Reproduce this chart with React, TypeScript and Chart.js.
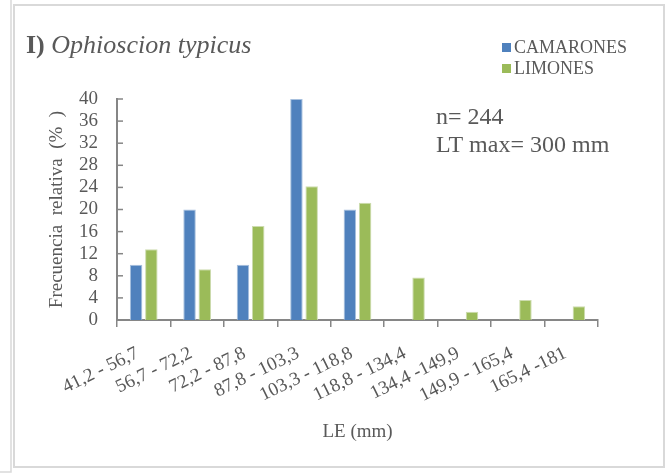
import React, { useEffect, useRef } from "react";
import { Chart, registerables } from "chart.js";

Chart.register(...registerables);

const categories = [
  "41,2 - 56,7",
  "56,7 - 72,2",
  "72,2 - 87,8",
  "87,8 - 103,3",
  "103,3 - 118,8",
  "118,8 - 134,4",
  "134,4 -149,9",
  "149,9 - 165,4",
  "165,4 -181",
];
const camarones = [10, 20, 10, 40, 20, 0, 0, 0, 0];
const limones = [12.8, 9.2, 17.0, 24.2, 21.2, 7.7, 1.5, 3.6, 2.5];
const seriesNames = ["CAMARONES", "LIMONES"];
const titleBold = "I)";
const titleItalic = "Ophioscion typicus";
const noteLines = ["n= 244", "LT max= 300 mm"];
const yTitle = "Frecuencia  relativa  (%  )";
const xTitle = "LE (mm)";

const SERIF = "'Liberation Serif', 'Times New Roman', serif";
const TEXT = "#595959";
const AXIS = "#868686";
const BLUE = "#4f81bd";
const GREEN = "#9bbb59";

const framePlugin = {
  id: "frame",
  beforeDraw(chart: any) {
    const ctx = chart.ctx;
    ctx.save();
    ctx.fillStyle = "#ffffff";
    ctx.fillRect(0, 0, chart.width, chart.height);
    ctx.strokeStyle = "#d9d9d9";
    ctx.lineWidth = 1.5;
    ctx.beginPath();
    ctx.moveTo(11, 0);
    ctx.lineTo(11, 472);
    ctx.lineTo(0, 472);
    ctx.stroke();
    ctx.lineWidth = 2;
    ctx.strokeRect(14, 5, 650, 462);
    ctx.restore();
  },
};

const yInsideTicks = {
  id: "yInsideTicks",
  afterDraw(chart: any) {
    const ctx = chart.ctx;
    const y = chart.scales.y;
    const left = chart.chartArea.left;
    ctx.save();
    ctx.strokeStyle = AXIS;
    ctx.lineWidth = 1.5;
    y.ticks.forEach((t: any) => {
      const py = y.getPixelForValue(t.value);
      ctx.beginPath();
      ctx.moveTo(left - 1, py);
      ctx.lineTo(left + 6, py);
      ctx.stroke();
    });
    ctx.restore();
  },
};

const textPlugin = {
  id: "texts",
  afterDraw(chart: any) {
    const ctx = chart.ctx;
    ctx.save();
    ctx.fillStyle = TEXT;
    ctx.textBaseline = "alphabetic";
    ctx.textAlign = "left";
    // title
    ctx.font = `bold 26px ${SERIF}`;
    ctx.fillText(titleBold, 26, 53);
    const w = ctx.measureText(titleBold + " ").width;
    ctx.font = `italic 26px ${SERIF}`;
    ctx.fillText(titleItalic, 26 + w, 53);
    // legend
    const colors = [BLUE, GREEN];
    ctx.font = `18px ${SERIF}`;
    ctx.textBaseline = "middle";
    chart.data.datasets.forEach((ds: any, i: number) => {
      const cy = 47.5 + i * 21;
      ctx.fillStyle = colors[i];
      ctx.fillRect(502, cy - 4.5, 9, 9);
      ctx.fillStyle = TEXT;
      ctx.fillText(ds.label, 514, cy + 1);
    });
    // note
    ctx.font = `24px ${SERIF}`;
    noteLines.forEach((l, i) => {
      ctx.fillText(l, 436, 118 + i * 28);
    });
    ctx.restore();
  },
};

export default function App() {
  const ref = useRef<HTMLCanvasElement | null>(null);
  useEffect(() => {
    if (!ref.current) return;
    const chart = new Chart(ref.current, {
      type: "bar",
      data: {
        labels: categories,
        datasets: [
          {
            label: seriesNames[0],
            data: camarones,
            backgroundColor: BLUE,
            borderColor: "#a7c0de",
            borderWidth: { left: 1, right: 1, top: 1, bottom: 0 },
            categoryPercentage: 0.57,
            barPercentage: 0.82,
          },
          {
            label: seriesNames[1],
            data: limones,
            backgroundColor: GREEN,
            borderColor: "#cddcaf",
            borderWidth: { left: 1, right: 1, top: 1, bottom: 0 },
            categoryPercentage: 0.57,
            barPercentage: 0.82,
          },
        ],
      },
      options: {
        animation: false,
        responsive: false,
        maintainAspectRatio: false,
        layout: { padding: { top: 99, right: 68, left: 0, bottom: 0 } },
        plugins: {
          legend: { display: false },
          title: { display: false },
          tooltip: { enabled: false },
        },
        scales: {
          x: {
            afterFit: (s: any) => {
              s.height = 155;
            },
            grid: {
              display: true,
              drawOnChartArea: false,
              drawTicks: true,
              tickLength: 7,
              color: AXIS,
              lineWidth: 1.5,
              offset: true,
            },
            border: { display: true, color: AXIS, width: 2 },
            ticks: {
              autoSkip: false,
              minRotation: 26,
              maxRotation: 26,
              color: TEXT,
              padding: 15,
              labelOffset: -6,
              font: { family: SERIF, size: 19 },
            },
            title: {
              display: true,
              text: xTitle,
              color: TEXT,
              font: { family: SERIF, size: 19 },
              padding: { top: 0, bottom: 32 },
            },
          },
          y: {
            min: 0,
            max: 40,
            afterFit: (s: any) => {
              s.width = 117;
            },
            grid: { display: false, drawTicks: false },
            border: { display: true, color: AXIS, width: 2 },
            ticks: {
              stepSize: 4,
              autoSkip: false,
              color: TEXT,
              padding: 19,
              font: { family: SERIF, size: 19 },
            },
            title: {
              display: true,
              text: yTitle,
              color: TEXT,
              font: { family: SERIF, size: 19 },
              padding: { top: 46, bottom: 0 },
            },
          },
        },
      },
      plugins: [framePlugin, yInsideTicks, textPlugin],
    });
    return () => chart.destroy();
  }, []);
  return (
    <div style={{ position: "absolute", left: 0, top: 0, width: 666, height: 475 }}>
      <canvas ref={ref} width={666} height={475} style={{ width: 666, height: 475, display: "block" }} />
    </div>
  );
}
